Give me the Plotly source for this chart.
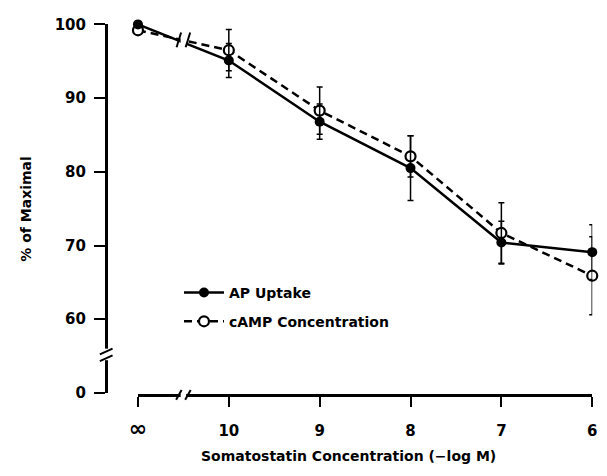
import plotly.graph_objects as go

# ---- data ----
x_labels = ["∞", "10", "9", "8", "7", "6"]
ap_uptake = [100.0, 95.1, 86.8, 80.5, 70.4, 69.1]
ap_err = [0, 2.3, 2.4, 4.4, 2.9, 3.7]
camp_conc = [99.2, 96.5, 88.3, 82.1, 71.7, 65.9]
camp_err = [0, 2.8, 3.2, 2.8, 4.1, 5.3]
y_tickvals = [50, 60, 70, 80, 90, 100]
y_ticktext = ["0", "60", "70", "80", "90", "100"]

W, H = 607, 476
def px_x(p):
    return p / W
def px_y(p):
    return 1 - p / H

xpos = list(range(len(x_labels)))
FONT = "DejaVu Sans"
tick_text = [("<span style='font-size:22px'>%s</span>" % t) if t == "∞" else t
             for t in x_labels]

fig = go.Figure()
fig.add_trace(go.Scatter(
    x=xpos, y=camp_conc, mode="lines+markers", name="cAMP Concentration",
    line=dict(color="black", width=2.5, dash="8px,5px"),
    marker=dict(symbol="circle", size=10, color="white",
                line=dict(color="black", width=2.2)),
    error_y=dict(type="data", array=camp_err, visible=True, color="black",
                 thickness=1.5, width=3),
    cliponaxis=False, legend="legend2", showlegend=True))
fig.add_trace(go.Scatter(
    x=xpos, y=ap_uptake, mode="lines+markers", name="AP Uptake",
    line=dict(color="black", width=2.5),
    marker=dict(symbol="circle", size=10, color="black"),
    error_y=dict(type="data", array=ap_err, visible=True, color="black",
                 thickness=1.5, width=3),
    cliponaxis=False, legend="legend", showlegend=True))

shapes = []
# y-axis break
shapes.append(dict(type="rect", xref="paper", yref="paper",
                   x0=px_x(94), x1=px_x(105), y0=px_y(365), y1=px_y(353),
                   fillcolor="white", line=dict(width=0), layer="above"))
for yy in (356, 363):
    shapes.append(dict(type="line", xref="paper", yref="paper",
                       x0=px_x(93), x1=px_x(106), y0=px_y(yy + 3), y1=px_y(yy - 3),
                       line=dict(color="black", width=2), layer="above"))
# x-axis break
shapes.append(dict(type="rect", xref="x", yref="paper",
                   x0=0.47, x1=0.53, y0=px_y(406), y1=px_y(396),
                   fillcolor="white", line=dict(width=0), layer="above"))
for xx in (0.45, 0.55):
    shapes.append(dict(type="line", xref="x", yref="paper",
                       x0=xx - 0.03, x1=xx + 0.03, y0=px_y(406), y1=px_y(396),
                       line=dict(color="black", width=2), layer="above"))
# break on the data lines between ∞ and 10
shapes.append(dict(type="rect", xref="x", yref="y",
                   x0=0.47, x1=0.53, y0=96.6, y1=99.2,
                   fillcolor="white", line=dict(width=0), layer="above"))
for xx in (0.45, 0.55):
    shapes.append(dict(type="line", xref="x", yref="y",
                       x0=xx - 0.025, x1=xx + 0.025, y0=96.9, y1=98.9,
                       line=dict(color="black", width=2), layer="above"))

fig.update_layout(
    width=W, height=H,
    margin=dict(l=0, r=0, t=0, b=0),
    paper_bgcolor="white", plot_bgcolor="white",
    font=dict(family=FONT, color="black"),
    showlegend=True,
    xaxis=dict(domain=[px_x(132), px_x(597)], range=[0, 5],
               anchor="free", position=px_y(401),
               showline=True, linecolor="black", linewidth=3,
               ticks="outside", ticklen=10, tickwidth=2, tickcolor="black",
               tickvals=xpos, ticktext=tick_text, ticklabelstandoff=11,
               tickfont=dict(family=FONT, size=15, weight="bold"),
               showgrid=False, zeroline=False),
    yaxis=dict(domain=[px_y(399), px_y(16)], range=[50, 100],
               anchor="free", position=px_x(99),
               showline=True, linecolor="black", linewidth=2.5,
               ticks="outside", ticklen=11, tickwidth=2, tickcolor="black",
               tickvals=y_tickvals, ticktext=y_ticktext, ticklabelstandoff=5,
               tickfont=dict(family=FONT, size=15, weight="bold"),
               showgrid=False, zeroline=False),
    legend=dict(x=px_x(174), y=px_y(295), xanchor="left", yanchor="middle",
                bgcolor="rgba(0,0,0,0)",
                font=dict(family=FONT, size=14, weight="bold"), itemwidth=40),
    legend2=dict(x=px_x(174), y=px_y(325), xanchor="left", yanchor="middle",
                 bgcolor="rgba(0,0,0,0)",
                 font=dict(family=FONT, size=14, weight="bold"), itemwidth=40),
    shapes=shapes,
    annotations=[
        dict(text="Somatostatin Concentration (−log M)", xref="paper", yref="paper",
             x=px_x(348), y=px_y(465), xanchor="center", yanchor="middle",
             showarrow=False, font=dict(family=FONT, size=14, weight="bold")),
        dict(text="% of Maximal", xref="paper", yref="paper",
             x=px_x(18), y=px_y(208), xanchor="center", yanchor="middle",
             showarrow=False, textangle=-90,
             font=dict(family=FONT, size=14, weight="bold")),
    ],
)

fig.write_html("out.html", config={"displayModeBar": False})
